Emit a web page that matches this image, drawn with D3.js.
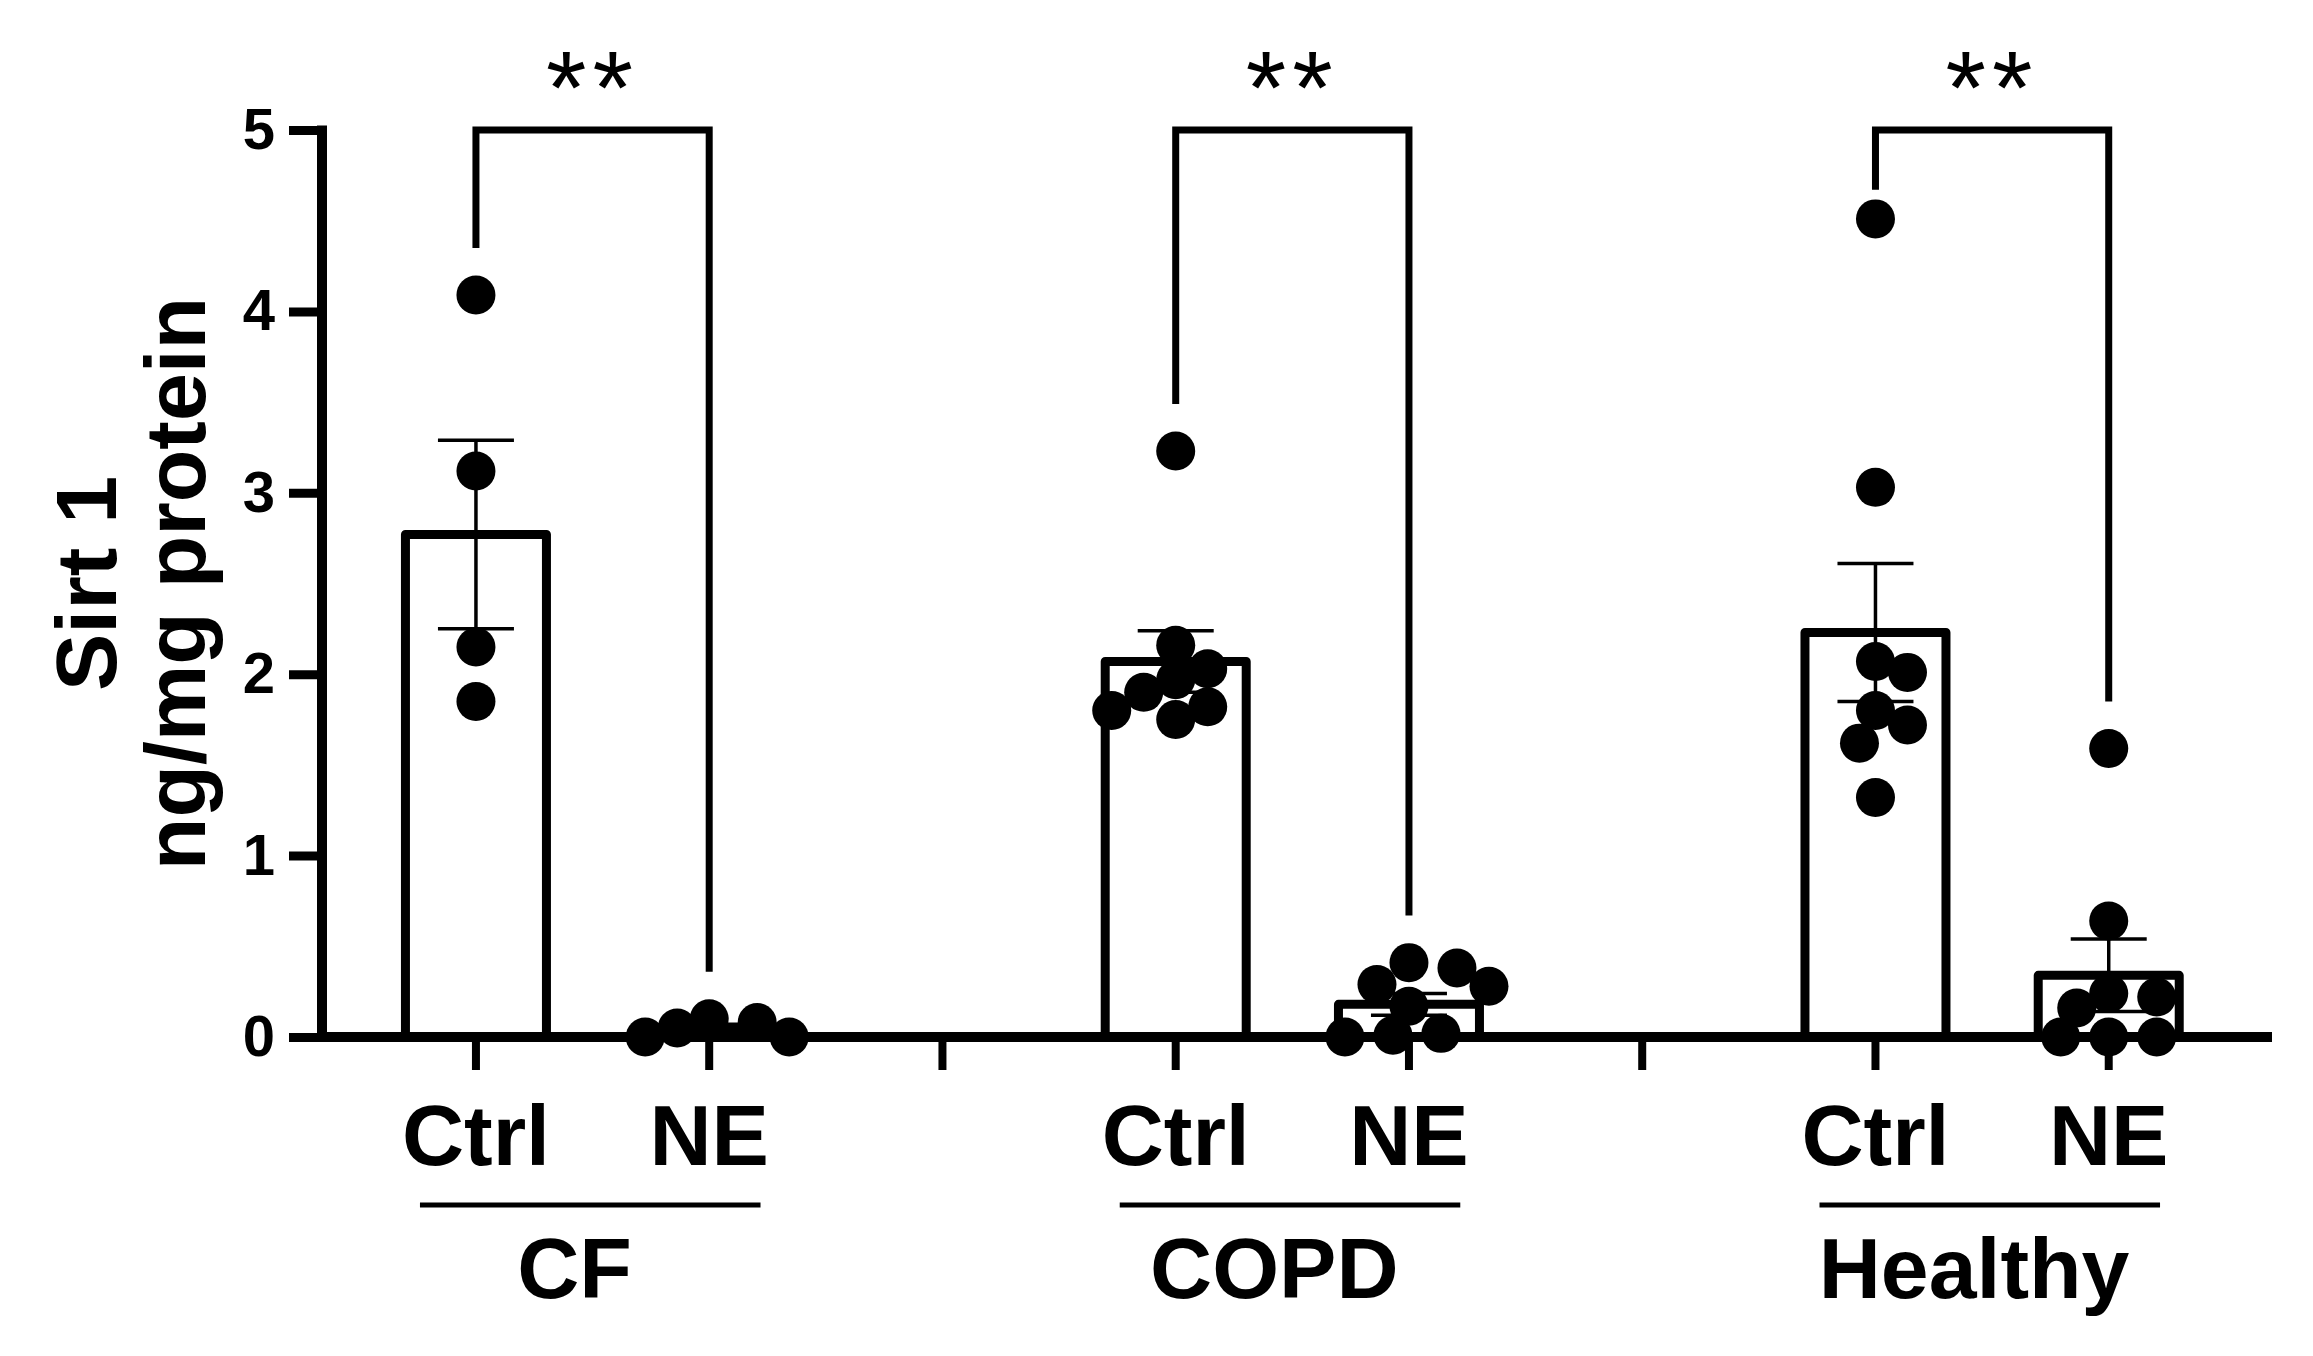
<!DOCTYPE html>
<html>
<head>
<meta charset="utf-8">
<script src="https://cdn.jsdelivr.net/npm/d3@7"></script>
<style>
  html, body { margin: 0; padding: 0; background: #fff; }
  svg { display: block; font-family: "Liberation Sans", Arial, sans-serif; font-weight: bold; }
</style>
</head>
<body>
<svg id="chart" width="2313" height="1356"></svg>
<script>
const groups = ['CF', 'COPD', 'Healthy'];
const conditions = ['Ctrl', 'NE'];
const barMeans = [2.77, 0.05, 2.07, 0.18, 2.23, 0.34];
const barSem = [0.52, 0.02, 0.17, 0.06, 0.38, 0.2];
const cfCtrl = [4.09, 3.12, 2.15, 1.85];
const cfNE = [0.0, 0.1, 0.05, 0.08, 0.0];
const copdCtrl = [3.23, 2.16, 2.03, 1.97, 1.9, 1.82, 1.8, 1.75];
const copdNE = [0.41, 0.38, 0.28, 0.29, 0.17, 0.0, 0.01, 0.02];
const healthyCtrl = [4.51, 3.03, 2.07, 2.01, 1.8, 1.72, 1.62, 1.32];
const healthyNE = [1.59, 0.64, 0.24, 0.22, 0.16, 0.0, 0.0, 0.0];
const yTicks = [0, 1, 2, 3, 4, 5];
const significance = ['**', '**', '**'];

const points = [cfCtrl, cfNE, copdCtrl, copdNE, healthyCtrl, healthyNE];

const svg = d3.select('#chart');
svg.append('rect').attr('width', '100%').attr('height', '100%').attr('fill', '#fff');

// slot index: each group takes Ctrl, NE and a gap slot
const slot = (g, c) => g * 3 + c;
const x = d3.scaleLinear().domain([-0.66, 7.7]).range([322, 2272]);
const y = d3.scaleLinear().domain([0, 5]).range([1037, 130]);

const barW = 141;
const dotR = 19.5;
const fs = 86;

// y axis
const yAxis = svg.append('g').attr('transform', `translate(${x(-0.66)},0)`)
  .call(d3.axisLeft(y).tickValues(yTicks).tickSize(33).tickPadding(14).tickFormat(d3.format('d')));
yAxis.select('.domain').attr('stroke', '#000').attr('stroke-width', 10)
  .attr('d', `M0,${y(5) - 4.5}V${y(0) + 5}`);
yAxis.selectAll('.tick line').attr('stroke', '#000').attr('stroke-width', 9);
yAxis.selectAll('.tick text').attr('font-size', 58).attr('font-weight', 'bold')
  .attr('fill', '#000').attr('font-family', '"Liberation Sans", Arial, sans-serif');

// bars
const bars = [];
groups.forEach((g, gi) => conditions.forEach((c, ci) => {
  const i = gi * 2 + ci;
  bars.push({ g: gi, c: ci, mean: barMeans[i], sem: barSem[i], vals: points[i] });
}));

svg.append('g').selectAll('rect').data(bars).join('rect')
  .attr('x', d => x(slot(d.g, d.c)) - barW / 2)
  .attr('y', d => y(d.mean))
  .attr('width', barW)
  .attr('height', d => y(0) - y(d.mean))
  .attr('fill', '#fff').attr('stroke', '#000').attr('stroke-width', 9)
  .attr('stroke-linejoin', 'round');

// error bars (mean ± SEM)
const eb = svg.append('g').attr('stroke', '#000').attr('stroke-width', 3.5);
bars.forEach(d => {
  const cx = x(slot(d.g, d.c));
  eb.append('line').attr('x1', cx).attr('x2', cx).attr('y1', y(d.mean + d.sem)).attr('y2', y(Math.max(0, d.mean - d.sem)));
  eb.append('line').attr('x1', cx - 38).attr('x2', cx + 38).attr('y1', y(d.mean + d.sem)).attr('y2', y(d.mean + d.sem));
  if (d.mean - d.sem > 0) {
    eb.append('line').attr('x1', cx - 38).attr('x2', cx + 38).attr('y1', y(d.mean - d.sem)).attr('y2', y(d.mean - d.sem));
  }
});

// x axis
svg.append('line').attr('x1', x(-0.66) - 5).attr('x2', x(7.7))
  .attr('y1', y(0)).attr('y2', y(0)).attr('stroke', '#000').attr('stroke-width', 10);
const xTickSlots = d3.range(0, 8);
svg.append('g').selectAll('line').data(xTickSlots).join('line')
  .attr('x1', d => x(d)).attr('x2', d => x(d))
  .attr('y1', y(0)).attr('y2', y(0) + 33)
  .attr('stroke', '#000').attr('stroke-width', 8);

// scatter points: simple greedy swarm so dots do not pile up
function swarm(vals, cx) {
  const placed = [];
  const order = vals.map((v, i) => i).sort((a, b) => vals[b] - vals[a]);
  const minD = 33, step = 16;
  order.forEach(i => {
    const py = y(vals[i]);
    for (let k = 0; k < 40; k++) {
      const off = k === 0 ? 0 : Math.ceil(k / 2) * step * (k % 2 ? 1 : -1);
      const ok = placed.every(p => Math.hypot(p.x - (cx + off), p.y - py) >= minD);
      if (ok) { placed.push({ x: cx + off, y: py }); break; }
    }
  });
  return placed;
}
const dotG = svg.append('g');
bars.forEach(d => {
  dotG.selectAll(null).data(swarm(d.vals, x(slot(d.g, d.c)))).join('circle')
    .attr('cx', p => p.x).attr('cy', p => p.y).attr('r', dotR).attr('fill', '#000');
});

// significance brackets
const brTop = 5;
const br = svg.append('g').attr('fill', 'none').attr('stroke', '#000').attr('stroke-width', 7);
groups.forEach((g, gi) => {
  const a = bars[gi * 2], b = bars[gi * 2 + 1];
  const legA = Math.min(d3.max(a.vals) + 0.26, brTop - 0.33);
  const legB = Math.min(d3.max(b.vals) + 0.26, brTop - 0.33);
  const xa = x(slot(gi, 0)), xb = x(slot(gi, 1));
  br.append('path').attr('d', `M${xa},${y(legA)}V${y(brTop)}H${xb}V${y(legB)}`);
  svg.append('text').attr('x', (xa + xb) / 2).attr('y', 124)
    .attr('text-anchor', 'middle').attr('font-size', 104).attr('font-weight', 'normal')
    .attr('letter-spacing', 6).text(significance[gi]);
});

// category labels
const lab = svg.append('g').attr('font-size', fs).attr('text-anchor', 'middle');
groups.forEach((g, gi) => {
  conditions.forEach((c, ci) => {
    lab.append('text').attr('x', x(slot(gi, ci))).attr('y', 1165).text(c);
  });
  const x0 = x(slot(gi, 0) - 0.24), x1 = x(slot(gi, 1) + 0.22);
  svg.append('line').attr('x1', x0).attr('x2', x1).attr('y1', 1205).attr('y2', 1205)
    .attr('stroke', '#000').attr('stroke-width', 5);
  lab.append('text').attr('x', (x(slot(gi, 0)) + x(slot(gi, 1))) / 2 - 18).attr('y', 1298).text(g);
});

// y title
const yt = svg.append('text').attr('transform', `translate(116,${(y(0) + y(5)) / 2}) rotate(-90)`)
  .attr('text-anchor', 'middle').attr('font-size', fs);
yt.append('tspan').attr('x', 0).attr('y', 0).text('Sirt 1');
yt.append('tspan').attr('x', 0).attr('y', 89).text('ng/mg protein');
</script>
</body>
</html>
